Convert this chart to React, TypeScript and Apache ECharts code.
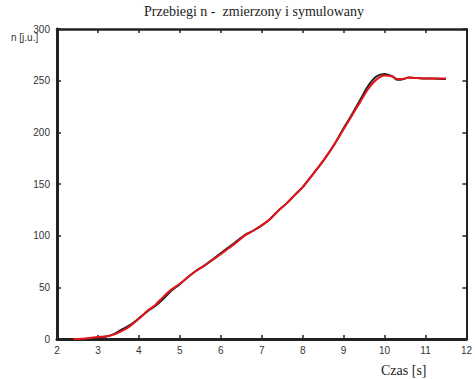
import React, { useEffect, useRef } from "react";
import * as echarts from "echarts";

const timeS = [2.4, 2.6, 2.8, 3.0, 3.2, 3.4, 3.6, 3.8, 4.0, 4.2, 4.4, 4.6, 4.8, 5.0, 5.2, 5.4, 5.6, 5.8, 6.0, 6.2, 6.4, 6.6, 6.8, 7.0, 7.2, 7.4, 7.6, 7.8, 8.0, 8.2, 8.4, 8.6, 8.8, 9.0, 9.2, 9.4, 9.6, 9.8, 10.0, 10.2, 10.3, 10.4, 10.6, 10.8, 11.0, 11.2, 11.4, 11.5];
const measured = [0, 0, 0.5, 1.5, 2.5, 5, 9.5, 14, 20, 26.5, 32, 39, 47, 53, 60, 66, 71, 77, 83, 89, 95, 101, 105, 110, 116, 124, 131, 139, 147, 157, 167, 178, 190, 204, 217, 231, 245, 254, 256.5, 254, 251, 251, 253, 252.5, 252, 252, 251.5, 251.5];
const simulated = [0, 0.3, 1, 2, 2.5, 4.5, 8, 13, 19.5, 27, 33, 41, 48, 53.5, 60, 66, 71, 76.5, 82, 88, 94, 100.5, 105, 110, 116, 124, 131, 139, 147, 157, 167, 178, 190, 203, 216, 229, 242, 251, 255, 254, 251.5, 251.5, 253, 252.5, 252, 252, 252, 252];

const xTicks = [2, 3, 4, 5, 6, 7, 8, 9, 10, 11, 12];
const yTicks = [0, 50, 100, 150, 200, 250, 300];

const titleText = "Przebiegi n -  zmierzony i symulowany";
const xName = "Czas [s]";
const yName = "n [j.u.]";

export default function App() {
  const ref = useRef<HTMLDivElement>(null);
  useEffect(() => {
    if (!ref.current) return;
    const chart = echarts.init(ref.current, null, { renderer: "svg" });
    const axisColor = "#222";
    const labelFont = { fontFamily: "Liberation Sans, Arial, sans-serif", fontSize: 10, color: "#333" };
    chart.setOption({
      animation: false,
      backgroundColor: "#fff",
      grid: { left: 57, right: 3, top: 29, bottom: 40, containLabel: false },
      xAxis: [
        {
          type: "value",
          min: xTicks[0],
          max: xTicks[xTicks.length - 1],
          interval: 1,
          position: "bottom",
          axisLine: { show: true, onZero: false, lineStyle: { color: axisColor, width: 3 } },
          axisTick: { show: true, inside: true, length: 4, lineStyle: { color: axisColor, width: 1.5 } },
          axisLabel: { ...labelFont, margin: 6 },
          splitLine: { show: false },
        },
        {
          type: "value",
          min: xTicks[0],
          max: xTicks[xTicks.length - 1],
          interval: 1,
          position: "top",
          axisLine: { show: true, onZero: false, lineStyle: { color: axisColor, width: 2.5 } },
          axisTick: { show: true, inside: true, length: 4, lineStyle: { color: axisColor, width: 1.5 } },
          axisLabel: { show: false },
          splitLine: { show: false },
        },
      ],
      yAxis: [
        {
          type: "value",
          min: yTicks[0],
          max: yTicks[yTicks.length - 1],
          interval: 50,
          position: "left",
          axisLine: { show: true, onZero: false, lineStyle: { color: axisColor, width: 3 } },
          axisTick: { show: true, inside: true, length: 4, lineStyle: { color: axisColor, width: 1.5 } },
          axisLabel: { ...labelFont, margin: 7 },
          splitLine: { show: false },
        },
        {
          type: "value",
          min: yTicks[0],
          max: yTicks[yTicks.length - 1],
          interval: 50,
          position: "right",
          axisLine: { show: true, onZero: false, lineStyle: { color: axisColor, width: 2 } },
          axisTick: { show: true, inside: true, length: 4, lineStyle: { color: axisColor, width: 1.5 } },
          axisLabel: { show: false },
          splitLine: { show: false },
        },
      ],
      graphic: [
        {
          type: "text",
          left: 144,
          top: 4,
          style: { text: titleText, font: "14px 'Liberation Serif', 'Times New Roman', serif", fill: "#222" },
        },
        {
          type: "text",
          left: 381,
          top: 363,
          style: { text: xName, font: "14px 'Liberation Serif', 'Times New Roman', serif", fill: "#222" },
        },
        {
          type: "text",
          left: 11,
          top: 32,
          style: { text: yName, font: "10px 'Liberation Sans', Arial, sans-serif", fill: "#333" },
        },
      ],
      series: [
        {
          name: "zmierzony",
          type: "line",
          xAxisIndex: 0,
          yAxisIndex: 0,
          showSymbol: false,
          smooth: 0.3,
          lineStyle: { color: "#222", width: 2 },
          data: timeS.map((t, i) => [t, measured[i]]),
        },
        {
          name: "symulowany",
          type: "line",
          xAxisIndex: 0,
          yAxisIndex: 0,
          showSymbol: false,
          smooth: 0.3,
          lineStyle: { color: "#e8141b", width: 2 },
          data: timeS.map((t, i) => [t, simulated[i]]),
        },
      ],
    });
    return () => chart.dispose();
  }, []);
  return <div ref={ref} style={{ width: 475, height: 379, position: "absolute", left: 0, top: 0 }} />;
}
